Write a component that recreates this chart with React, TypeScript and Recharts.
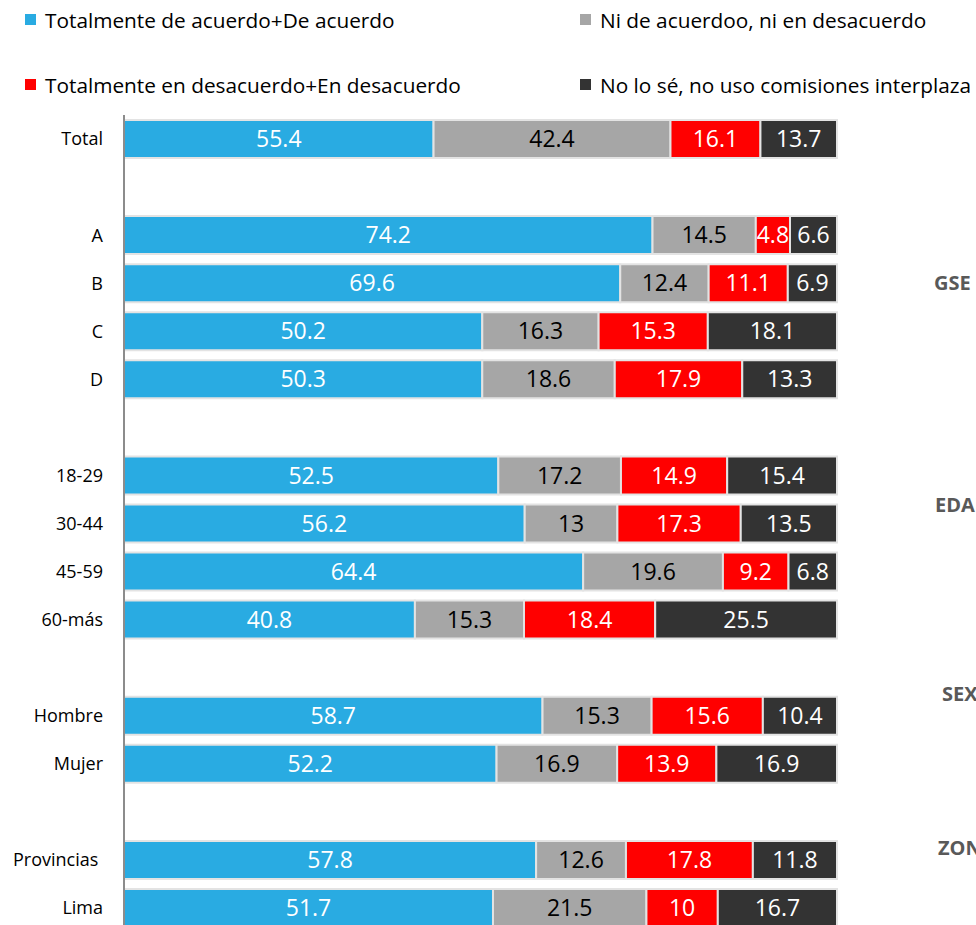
import { Bar, BarChart, Customized, LabelList, XAxis, YAxis } from "recharts";

const categories = ["Total", "", "A", "B", "C", "D", "", "18-29", "30-44", "45-59", "60-más", "", "Hombre", "Mujer", "", "Provincias\u00a0", "Lima"];
const agree = [55.4, null, 74.2, 69.6, 50.2, 50.3, null, 52.5, 56.2, 64.4, 40.8, null, 58.7, 52.2, null, 57.8, 51.7];
const neutral = [42.4, null, 14.5, 12.4, 16.3, 18.6, null, 17.2, 13, 19.6, 15.3, null, 15.3, 16.9, null, 12.6, 21.5];
const disagree = [16.1, null, 4.8, 11.1, 15.3, 17.9, null, 14.9, 17.3, 9.2, 18.4, null, 15.6, 13.9, null, 17.8, 10];
const dontKnow = [13.7, null, 6.6, 6.9, 18.1, 13.3, null, 15.4, 13.5, 6.8, 25.5, null, 10.4, 16.9, null, 11.8, 16.7];

const series = [
  { key: "agree", name: "Totalmente de acuerdo+De acuerdo", color: "#29ABE2", text: "#ffffff" },
  { key: "neutral", name: "Ni de acuerdoo, ni en desacuerdo", color: "#A6A6A6", text: "#000000" },
  { key: "disagree", name: "Totalmente en desacuerdo+En desacuerdo", color: "#FF0000", text: "#ffffff" },
  { key: "dontKnow", name: "No lo sé, no uso comisiones interplaza", color: "#333333", text: "#ffffff" },
];

// group captions on the right, clipped by the page edge as in the original
const groups = [
  { label: "GSE", x: 934, y: 290 },
  { label: "EDAD", x: 935, y: 512 },
  { label: "SEXO", x: 942, y: 701 },
  { label: "ZONA", x: 938, y: 855 },
];

const data = categories.map((cat, i) => ({
  cat,
  agree: agree[i],
  neutral: neutral[i],
  disagree: disagree[i],
  dontKnow: dontKnow[i],
}));

const legendPos = [
  { x: 25, y: 19.5 },
  { x: 580, y: 19.5 },
  { x: 25, y: 84.5 },
  { x: 580, y: 84.5 },
];

function GroupLabels() {
  return (
    <g>
      {groups.map((g) => (
        <text key={g.label} x={g.x} y={g.y} fill="#595959" fontSize={20} fontWeight={700}>
          {g.label}
        </text>
      ))}
    </g>
  );
}

export default function App() {
  return (
    <div
      style={{
        position: "absolute",
        top: 0,
        left: 0,
        width: 976,
        height: 925,
        overflow: "hidden",
        background: "#fff",
        fontFamily: "'Open Sans', sans-serif",
      }}
    >
      {series.map((s, i) => (
        <div
          key={s.key}
          style={{
            position: "absolute",
            left: legendPos[i].x,
            top: legendPos[i].y - 16,
            lineHeight: "32px",
            display: "flex",
            alignItems: "center",
            fontSize: 20.8,
            color: "#000",
            whiteSpace: "nowrap",
          }}
        >
          <span style={{ width: 11, height: 11, background: s.color, marginRight: 9, display: "inline-block" }} />
          <span>{s.name}</span>
        </div>
      ))}
      <BarChart
        width={976}
        height={950}
        data={data}
        layout="vertical"
        stackOffset="expand"
        barSize={38}
        margin={{ top: 115, right: 139, bottom: 18, left: 0 }}
        style={{ position: "absolute", top: 0, left: 0 }}
      >
        <XAxis type="number" hide domain={[0, 1]} />
        <YAxis
          type="category"
          dataKey="cat"
          width={124}
          interval={0}
          tickLine={false}
          tickSize={0}
          tickMargin={21}
          axisLine={{ stroke: "#8C8C8C", strokeWidth: 2 }}
          tick={{ fill: "#000", fontSize: 18 }}
        />
        {series.map((s) => (
          <Bar
            key={s.key}
            dataKey={s.key}
            name={s.name}
            stackId="a"
            fill={s.color}
            stroke="#E3E3E3"
            strokeWidth={2}
            isAnimationActive={false}
          >
            <LabelList dataKey={s.key} position="center" fill={s.text} fontSize={23} />
          </Bar>
        ))}
        <Customized component={GroupLabels} />
      </BarChart>
    </div>
  );
}
